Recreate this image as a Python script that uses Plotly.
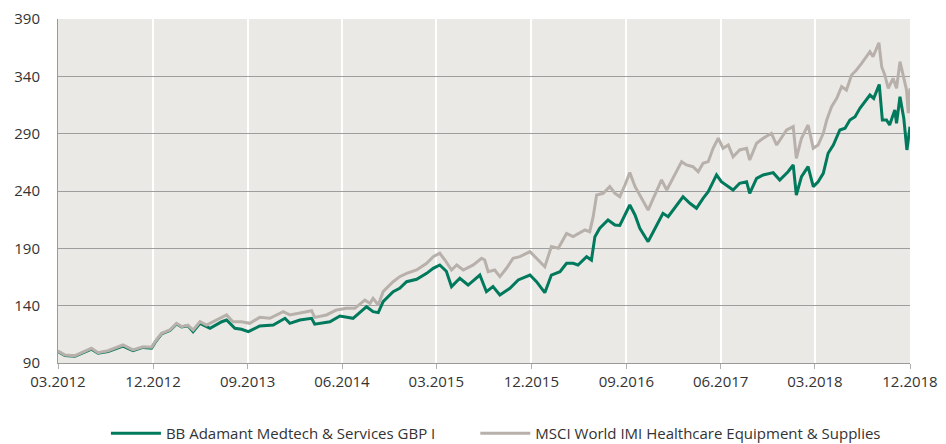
import plotly.graph_objects as go

# ---- data ----
fund_name = "BB Adamant Medtech & Services GBP I"
index_name = "MSCI World IMI Healthcare Equipment & Supplies"

fund_dates = [
    "2012-03-01", "2012-03-21", "2012-04-19", "2012-05-18", "2012-06-06", "2012-06-25",
    "2012-07-24", "2012-09-05", "2012-10-04", "2012-11-02", "2012-11-27", "2012-12-07",
    "2012-12-26", "2013-01-19", "2013-02-07", "2013-02-22", "2013-03-12", "2013-03-27",
    "2013-04-16", "2013-05-15", "2013-06-18", "2013-07-02", "2013-07-26", "2013-08-14",
    "2013-09-03", "2013-10-06", "2013-11-14", "2013-12-18", "2014-01-01", "2014-01-30",
    "2014-03-05", "2014-03-14", "2014-04-27", "2014-05-26", "2014-07-03", "2014-08-11",
    "2014-08-30", "2014-09-14", "2014-09-28", "2014-10-27", "2014-11-15", "2014-12-05",
    "2015-01-03", "2015-02-01", "2015-02-20", "2015-03-11", "2015-03-30", "2015-04-14",
    "2015-05-08", "2015-06-01", "2015-07-05", "2015-07-24", "2015-08-12", "2015-09-01",
    "2015-09-30", "2015-10-24", "2015-11-27", "2015-12-16", "2016-01-09", "2016-01-28",
    "2016-02-22", "2016-03-12", "2016-03-31", "2016-04-14", "2016-05-09", "2016-05-23",
    "2016-06-02", "2016-06-16", "2016-07-10", "2016-07-30", "2016-08-13", "2016-09-11",
    "2016-09-26", "2016-10-10", "2016-11-03", "2016-11-18", "2016-12-16", "2016-12-31",
    "2017-01-14", "2017-02-12", "2017-03-04", "2017-03-23", "2017-04-11", "2017-04-26",
    "2017-05-20", "2017-06-03", "2017-07-07", "2017-07-26", "2017-08-15", "2017-08-24",
    "2017-09-13", "2017-10-02", "2017-10-31", "2017-11-19", "2017-12-13", "2017-12-28",
    "2018-01-06", "2018-01-21", "2018-02-09", "2018-02-24", "2018-03-10", "2018-03-25",
    "2018-04-08", "2018-04-23", "2018-05-12", "2018-05-27", "2018-06-10", "2018-06-25",
    "2018-07-09", "2018-07-24", "2018-08-07", "2018-08-18", "2018-09-03", "2018-09-12",
    "2018-09-24", "2018-10-03", "2018-10-18", "2018-10-23", "2018-11-02", "2018-11-13",
    "2018-11-22", "2018-12-01",
]
fund_values = [
    100.0, 96.5, 95.8, 99.2, 102.0, 98.5,
    100.0, 104.8, 100.8, 103.6, 103.0, 108.0,
    115.5, 118.3, 124.0, 121.5, 122.5, 117.3,
    124.6, 120.3, 126.0, 127.5, 120.3, 119.4,
    117.3, 122.3, 123.1, 129.0, 124.6, 127.5,
    129.0, 123.9, 126.0, 131.0, 129.0, 139.1,
    134.8, 133.9, 143.5, 152.2, 155.1, 160.9,
    163.0, 168.2, 172.6, 175.5, 170.0, 156.6,
    163.9, 158.0, 166.7, 152.2, 156.6, 149.3,
    155.1, 162.4, 166.7, 160.9, 151.3, 166.7,
    169.6, 176.9, 176.9, 175.5, 182.7, 179.8,
    200.2, 207.5, 214.7, 210.4, 210.0, 227.8,
    219.1, 207.5, 195.8, 204.5, 220.5, 217.6,
    223.4, 235.0, 229.3, 224.9, 233.6, 239.4,
    254.0, 248.1, 240.9, 246.7, 248.1, 238.0,
    251.0, 254.0, 256.0, 249.6, 256.8, 262.7,
    236.5, 252.5, 261.2, 243.8, 248.1, 255.4,
    272.9, 280.1, 293.2, 294.7, 301.9, 304.8,
    312.1, 317.9, 323.7, 320.8, 332.9, 301.9,
    301.9, 297.6, 310.6, 299.0, 322.2, 303.4,
    275.8, 296.1,
]

index_dates = [
    "2012-03-01", "2012-03-21", "2012-04-19", "2012-05-18", "2012-06-06", "2012-06-25",
    "2012-07-24", "2012-09-05", "2012-10-04", "2012-11-02", "2012-11-27", "2012-12-07",
    "2012-12-26", "2013-01-19", "2013-02-07", "2013-02-22", "2013-03-12", "2013-03-27",
    "2013-04-16", "2013-05-05", "2013-06-13", "2013-07-02", "2013-07-20", "2013-08-14",
    "2013-09-07", "2013-10-06", "2013-11-04", "2013-12-13", "2014-01-01", "2014-01-30",
    "2014-03-05", "2014-03-14", "2014-04-17", "2014-05-16", "2014-06-14", "2014-07-08",
    "2014-08-06", "2014-08-21", "2014-08-30", "2014-09-14", "2014-09-28", "2014-10-27",
    "2014-11-15", "2014-12-05", "2015-01-03", "2015-02-01", "2015-02-20", "2015-03-11",
    "2015-03-26", "2015-04-14", "2015-04-29", "2015-05-18", "2015-06-16", "2015-07-10",
    "2015-07-19", "2015-07-29", "2015-08-17", "2015-09-01", "2015-09-20", "2015-10-09",
    "2015-10-29", "2015-11-27", "2015-12-16", "2016-01-09", "2016-01-28", "2016-02-17",
    "2016-03-12", "2016-03-31", "2016-05-04", "2016-05-18", "2016-05-28", "2016-06-07",
    "2016-06-26", "2016-07-15", "2016-07-30", "2016-08-13", "2016-08-28", "2016-09-11",
    "2016-09-26", "2016-10-10", "2016-11-03", "2016-11-18", "2016-12-12", "2016-12-27",
    "2017-01-14", "2017-02-08", "2017-02-22", "2017-03-13", "2017-03-28", "2017-04-11",
    "2017-04-26", "2017-05-10", "2017-05-25", "2017-06-08", "2017-06-23", "2017-07-07",
    "2017-07-26", "2017-08-15", "2017-08-24", "2017-09-13", "2017-10-02", "2017-10-26",
    "2017-11-10", "2017-12-09", "2017-12-28", "2018-01-06", "2018-01-21", "2018-02-09",
    "2018-02-24", "2018-03-10", "2018-03-25", "2018-04-04", "2018-04-18", "2018-05-03",
    "2018-05-17", "2018-05-31", "2018-06-15", "2018-06-29", "2018-07-14", "2018-07-28",
    "2018-08-07", "2018-08-16", "2018-09-02", "2018-09-10", "2018-09-19", "2018-09-29",
    "2018-10-13", "2018-10-23", "2018-11-02", "2018-11-11", "2018-11-21", "2018-11-26",
    "2018-12-01",
]
index_values = [
    100.5, 97.0, 96.4, 99.9, 102.8, 99.0,
    100.7, 105.7, 101.4, 104.2, 103.7, 108.6,
    115.9, 118.8, 124.6, 121.7, 123.1, 118.8,
    126.0, 123.1, 129.0, 131.9, 126.0, 126.0,
    124.6, 129.8, 129.0, 134.8, 131.9, 133.9,
    135.6, 129.8, 131.9, 136.2, 137.7, 137.7,
    144.9, 142.0, 146.4, 140.6, 152.2, 160.9,
    165.3, 168.2, 171.1, 176.9, 182.7, 185.7,
    179.8, 171.1, 175.5, 171.1, 175.5, 181.3,
    179.8, 169.6, 171.1, 165.3, 172.6, 181.3,
    182.7, 187.1, 181.3, 174.0, 191.5, 190.0,
    203.0, 200.2, 206.0, 204.5, 217.6, 236.5,
    238.0, 243.8, 238.0, 235.0, 245.2, 256.0,
    244.0, 236.5, 223.4, 233.6, 249.6, 240.9,
    251.0, 265.6, 262.7, 261.2, 256.8, 264.2,
    265.6, 277.2, 286.0, 277.2, 280.1, 269.9,
    275.8, 277.2, 267.0, 281.6, 286.0, 290.3,
    280.1, 293.2, 296.1, 268.5, 286.0, 297.6,
    277.2, 280.1, 290.3, 301.9, 313.5, 320.8,
    331.0, 328.0, 341.2, 345.5, 351.3, 357.1,
    361.5, 357.1, 369.3, 348.4, 341.2, 329.6,
    338.3, 329.6, 352.8, 341.2, 328.0, 307.8,
    329.6,
]

y_ticks = [90, 140, 190, 240, 290, 340, 390]
x_start = "2012-03-01"
x_end = "2018-12-01"

GREEN = "#00795c"
GREY = "#b8b1ab"
FONT = "Open Sans"
LEGEND_PAD = "\u00a0" * 9  # extra gap after the first legend entry

fig = go.Figure()
fig.add_trace(go.Scatter(
    x=fund_dates, y=fund_values, mode="lines", name=fund_name + LEGEND_PAD,
    line=dict(color=GREEN, width=3),
))
fig.add_trace(go.Scatter(
    x=index_dates, y=index_values, mode="lines", name=index_name,
    line=dict(color=GREY, width=3),
))

fig.update_layout(
    width=946, height=444,
    margin=dict(l=58, r=36, t=19, b=81, autoexpand=False),
    paper_bgcolor="white",
    plot_bgcolor="#ebe9e5",
    font=dict(family=FONT, size=15, color="#333333"),
    showlegend=True,
    legend=dict(
        orientation="h", x=0.514, xanchor="center", y=-0.205, yanchor="middle",
        font=dict(family=FONT, size=15, color="#333333"),
        itemwidth=50, bgcolor="rgba(0,0,0,0)",
    ),
)
fig.update_xaxes(
    type="date", range=[x_start, x_end], automargin=False,
    tick0=x_start, dtick="M9", tickformat="%m.%Y",
    showgrid=True, gridcolor="white", gridwidth=2,
    showline=True, linecolor="#9a9a9a", linewidth=1,
    ticks="outside", ticklen=5, tickcolor="#b0b0b0", tickwidth=1,
    zeroline=False,
)
fig.update_yaxes(
    range=[90, 390], tickvals=y_ticks, automargin=False,
    showgrid=True, gridcolor="#9d9d9d", gridwidth=1,
    showline=True, linecolor="#9a9a9a", linewidth=1,
    ticks="", ticklabelstandoff=14, zeroline=False,
)

fig.write_html(
    "out.html",
    config={"displayModeBar": False},
    post_script="document.body.style.margin='0';document.body.style.overflow='hidden';",
)
